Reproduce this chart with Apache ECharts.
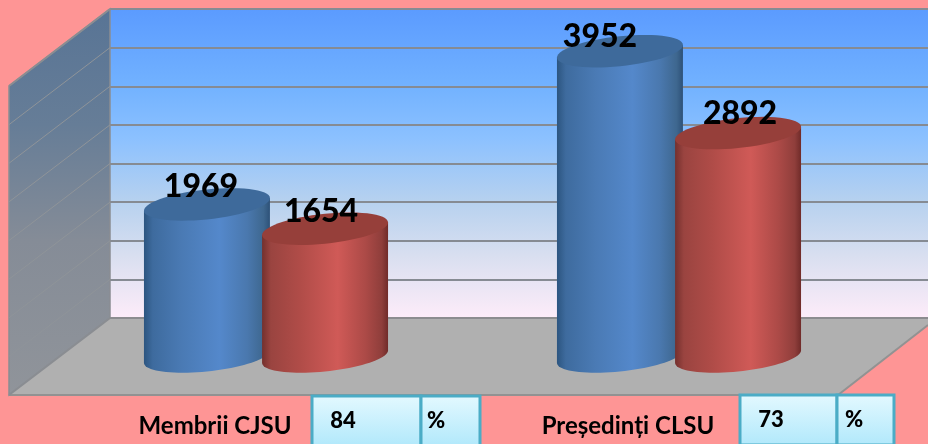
<!DOCTYPE html>
<html>
<head>
<meta charset="utf-8">
<style>html,body{margin:0;padding:0;background:#fe9595;overflow:hidden}#c{width:928px;height:444px}</style>
<script src="https://cdn.jsdelivr.net/npm/echarts@6/dist/echarts.min.js"></script>
</head>
<body>
<div id="c"></div>
<script>
const categories = ['Membrii CJSU', 'Președinți CLSU'];
const totalValues = [1969, 3952];
const secondValues = [1654, 2892];
const percentTexts = ['84', '73'];
const axisMax = 4000;
const axisStep = 500;
const tickValues = [0, 500, 1000, 1500, 2000, 2500, 3000, 3500, 4000];

// label nudges in px, as placed by hand in the source chart
const blueLabelShift = [[-6, -18], [-20, -15]];
const redLabelShift = [[-4, -17], [2, -19]];

const chart = echarts.init(document.getElementById('c'), null, {renderer: 'canvas'});
const DX = -101, DY = 77, FONT = 'Lato, "Open Sans", sans-serif';

function lin(stops, horizontal) {
  return new echarts.graphic.LinearGradient(0, 0, horizontal ? 1 : 0, horizontal ? 0 : 1,
    stops.map(s => ({offset: s[0], color: s[1]})));
}
const wallFill = lin([[0,'#5b9bff'],[0.25,'#72b2ff'],[0.42,'#8cc1ff'],[0.62,'#b6d1ef'],[0.8,'#d9dff0'],[1,'#fdecf9']]);
const sideFill = lin([[0,'#587495'],[0.3,'#667d97'],[0.6,'#858c97'],[1,'#90949a']]);
const palette = {
  blue: {top:'#3e6a9b', body:[[0,'#2c5580'],[0.07,'#3e6b9e'],[0.3,'#4a7ab4'],[0.6,'#5488cb'],[0.82,'#4a78ae'],[0.95,'#3e678f'],[1,'#2d5178']]},
  red: {top:'#963f3a', body:[[0,'#74302d'],[0.07,'#9a4440'],[0.3,'#b04c48'],[0.6,'#d05a57'],[0.82,'#ac4a47'],[0.95,'#8f3e3b'],[1,'#702b29']]}
};

function ellipsePts(cx, cy, a, b, k, from, to, n) {
  const pts = [];
  for (let i = 0; i <= n; i++) {
    const t = from + (to - from) * i / n;
    pts.push([cx + a * Math.cos(t), cy + b * Math.sin(t) - k * a * Math.cos(t)]);
  }
  return pts;
}
function cylinder(sign, colors) {
  return function (params, api) {
    const band = api.size([1, 0])[0];
    const top = api.coord([api.value(0), api.value(1)]);
    const base = api.coord([api.value(0), 0]);
    const cx = top[0] + sign * band * 0.143;
    const a = band * 0.1525, b = 15, k = 0.1;
    const lower = ellipsePts(cx, base[1], a, b, k, 0, Math.PI, 40);
    const bodyPts = [[cx - a, top[1] + k * a], [cx + a, top[1] - k * a]].concat(lower);
    return {type: 'group', children: [
      {type: 'polygon', shape: {points: bodyPts}, style: {fill: lin(colors.body, true)}},
      {type: 'polygon', shape: {points: ellipsePts(cx, top[1], a, b, k, 0, Math.PI * 2, 60)}, style: {fill: colors.top}}
    ]};
  };
}
function labelSeries(name, values, sign, shift) {
  return {
    type: 'custom', name, xAxisIndex: 1, yAxisIndex: 1, z: 9, silent: true,
    data: values.map((v, i) => [i, v]),
    renderItem(params, api) {
      const band = api.size([1, 0])[0];
      const p = api.coord([api.value(0), api.value(1)]);
      const s = shift[params.dataIndex];
      return {type: 'text', style: {
        text: String(api.value(1)), x: p[0] + sign * band * 0.143 + s[0], y: p[1] + s[1],
        align: 'center', verticalAlign: 'middle', fill: '#000', font: '900 32px ' + FONT
      }};
    }
  };
}
function boxPair(x1, x2, x3, y, text, tx, px, ty) {
  const h = 50;
  const box = (l, r) => ({type: 'rect', z: 20, shape: {x: l, y, width: r - l, height: h},
    style: {fill: lin([[0,'#e4f9ff'],[1,'#b0e8fb']]), stroke: '#4bacc6', lineWidth: 3}});
  const txt = (t, x) => ({type: 'text', z: 21, style: {text: t, x, y: ty, align: 'center', verticalAlign: 'middle', fill: '#000', font: '900 22px ' + FONT}});
  return [box(x1, x2), box(x2, x3), txt(text, tx), txt('%', px)];
}

chart.setOption({
  animation: false,
  backgroundColor: '#fe9595',
  grid: [
    {left: 110, right: 0, top: 9, height: 309, show: true, backgroundColor: wallFill, borderWidth: 0},
    {left: 59.5, right: 42.5, top: 47.5, bottom: 87.5}
  ],
  xAxis: [
    {type: 'category', gridIndex: 0, data: categories, show: false},
    {type: 'category', gridIndex: 1, data: categories,
     axisLine: {show: false}, axisTick: {show: false},
     axisLabel: {show: true, margin: 58, color: '#000', fontFamily: FONT, fontWeight: 'bold', fontSize: 24, padding: [0, 102, 0, 0]}}
  ],
  yAxis: [
    {type: 'value', gridIndex: 0, min: 0, max: axisMax, interval: axisStep,
     axisLabel: {show: false}, axisLine: {show: false}, axisTick: {show: false},
     splitLine: {show: true, lineStyle: {color: '#868b93', width: 2}}},
    {type: 'value', gridIndex: 1, min: 0, max: axisMax, interval: axisStep, show: false, splitLine: {show: false}}
  ],
  series: [
    {type: 'custom', name: 'side wall', xAxisIndex: 0, yAxisIndex: 0, z: 1, silent: true, clip: false,
     data: tickValues.map(v => [0, v]),
     renderItem(params, api) {
       const x = params.coordSys.x;
       const v = api.value(1);
       const y = api.coord([0, v])[1];
       const line = {type: 'line', shape: {x1: x, y1: y, x2: x + DX, y2: y + DY},
         style: {stroke: v === 0 || v === axisMax ? '#8a8d92' : '#8f9499', lineWidth: v === 0 || v === axisMax ? 2 : 1}};
       if (v !== 0) return line;
       const yTop = api.coord([0, axisMax])[1], r = params.coordSys.x + params.coordSys.width;
       return {type: 'group', children: [
         {type: 'polygon', shape: {points: [[x, yTop], [x, y], [x + DX, y + DY], [x + DX, yTop + DY]]},
          style: {fill: sideFill, stroke: '#8a8d92', lineWidth: 1.5}},
         {type: 'polygon', shape: {points: [[x, y], [r, y], [r, y + 7], [r - 90, y + DY], [x + DX, y + DY]]},
          style: {fill: '#b0b0b0'}},
         {type: 'polyline', shape: {points: [[r, y + 7], [r - 90, y + DY], [x + DX, y + DY]]},
          style: {fill: 'none', stroke: '#929292', lineWidth: 2}},
         {type: 'line', shape: {x1: x, y1: y, x2: r, y2: y}, style: {stroke: '#8c8c8f', lineWidth: 2}},
         line
       ]};
     }},
    {type: 'custom', name: 'blue', xAxisIndex: 1, yAxisIndex: 1, z: 3, clip: false,
     data: totalValues.map((v, i) => [i, v]), renderItem: cylinder(-1, palette.blue)},
    {type: 'custom', name: 'red', xAxisIndex: 1, yAxisIndex: 1, z: 4, clip: false,
     data: secondValues.map((v, i) => [i, v]), renderItem: cylinder(1, palette.red)},
    labelSeries('blue labels', totalValues, -1, blueLabelShift),
    labelSeries('red labels', secondValues, 1, redLabelShift)
  ],
  graphic: {elements: [
    ...boxPair(312, 421, 480, 396, percentTexts[0], 343, 436, 421),
    ...boxPair(740, 837, 894, 395, percentTexts[1], 771, 854, 420)
  ]}
});
</script>
</body>
</html>
